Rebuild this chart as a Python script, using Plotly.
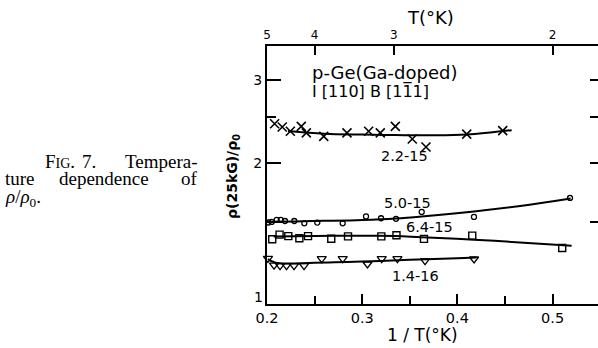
import plotly.graph_objects as go

# ---- measured points: 1/T (1/K) and rho(25 kG)/rho0 for each sample ----
inv_t_22 = [0.208, 0.216, 0.2245, 0.236, 0.2413, 0.2596, 0.284, 0.3068, 0.319, 0.3348,
            0.3526, 0.367, 0.4098, 0.4476]
ratio_22 = [2.42, 2.382, 2.332, 2.389, 2.314, 2.275, 2.314, 2.332, 2.314, 2.389,
            2.246, 2.16, 2.30, 2.34]

inv_t_50 = [0.2015, 0.2049, 0.2102, 0.2144, 0.2189, 0.2287, 0.2392, 0.2528, 0.2795,
            0.304, 0.3198, 0.3355, 0.3625, 0.4174, 0.5183]
ratio_50 = [1.495, 1.499, 1.514, 1.514, 1.506, 1.506, 1.489, 1.494, 1.489,
            1.540, 1.526, 1.522, 1.574, 1.536, 1.685]

inv_t_64 = [0.2055, 0.2132, 0.2224, 0.234, 0.2431, 0.2675, 0.2851, 0.3201, 0.336,
            0.3649, 0.4156, 0.5101]
ratio_64 = [1.378, 1.409, 1.399, 1.384, 1.399, 1.381, 1.397, 1.397, 1.405,
            1.380, 1.402, 1.320]

inv_t_14 = [0.201, 0.2074, 0.2137, 0.2205, 0.2284, 0.2389, 0.2575, 0.2795, 0.3055,
            0.3205, 0.337, 0.366, 0.4175]
ratio_14 = [1.255, 1.214, 1.211, 1.211, 1.211, 1.211, 1.253, 1.253, 1.221,
            1.253, 1.253, 1.241, 1.251]

# ---- smooth curves drawn through each sample ----
fit_x_22 = [0.222, 0.26, 0.30, 0.335, 0.37, 0.41, 0.457]
fit_y_22 = [2.335, 2.305, 2.295, 2.29, 2.287, 2.295, 2.345]

fit_x_50 = [0.202, 0.23, 0.26, 0.30, 0.335, 0.3625, 0.4174, 0.474, 0.519]
fit_y_50 = [1.501, 1.503, 1.507, 1.514, 1.525, 1.540, 1.578, 1.628, 1.68]

fit_x_64 = [0.207, 0.25, 0.30, 0.335, 0.3625, 0.4174, 0.474, 0.52]
fit_y_64 = [1.397, 1.40, 1.401, 1.40, 1.391, 1.375, 1.353, 1.335]

fit_x_14 = [0.201, 0.209, 0.25, 0.30, 0.35, 0.40, 0.42]
fit_y_14 = [1.25, 1.228, 1.229, 1.236, 1.246, 1.256, 1.26]

sample_names = ["2.2-15", "5.0-15", "6.4-15", "1.4-16"]

# ---- axes ----
x_ticks = [0.2, 0.3, 0.4, 0.5]
x_tick_text = ["0.2", "0.3", "0.4", "0.5"]
x_minor = [0.25, 0.35, 0.45]
temp_labels = [5, 4, 3, 2]          # T in K on the top scale
y_ticks = [1, 2, 3]
y_tick_text = ["", "2", "3"]
y_minor = [1.5, 2.5]

W, H = 598, 348
L, R, T, B = 267, 0, 46, 44
PW, PH = W - L - R, H - T - B


def paper(xp, yp):
    """pixel position in the figure -> paper coordinates"""
    return (xp - L) / PW, (H - B - yp) / PH


fig = go.Figure()

line_style = dict(color="black", width=2, shape="spline", smoothing=1.0)
for fx, fy in [(fit_x_22, fit_y_22), (fit_x_50, fit_y_50),
               (fit_x_64, fit_y_64), (fit_x_14, fit_y_14)]:
    fig.add_trace(go.Scatter(x=fx, y=fy, mode="lines", line=line_style,
                             hoverinfo="skip"))

marker_sets = [
    (inv_t_22, ratio_22, "x-thin-open", 9, 1.6),
    (inv_t_50, ratio_50, "circle-open", 5, 1.3),
    (inv_t_64, ratio_64, "square-open", 7, 1.4),
    (inv_t_14, ratio_14, "triangle-down-open", 8, 1.3),
]
for (mx, my, sym, size, lw), name in zip(marker_sets, sample_names):
    fig.add_trace(go.Scatter(
        x=mx, y=my, mode="markers", name=name, cliponaxis=False,
        marker=dict(symbol=sym, size=size, color="black",
                    line=dict(color="black", width=lw))))

# top temperature axis (x2) and right-hand frame axis (y2) need a trace each
top_pos = [1.0 / t for t in temp_labels]
fig.add_trace(go.Scatter(x=top_pos, y=[None] * len(top_pos), xaxis="x2",
                         mode="markers", hoverinfo="skip"))
fig.add_trace(go.Scatter(x=[None] * len(y_ticks), y=y_ticks, yaxis="y2",
                         mode="markers", hoverinfo="skip"))

axis_common = dict(showline=True, linecolor="black", linewidth=2,
                   showgrid=False, zeroline=False, ticks="inside",
                   tickcolor="black", tickwidth=1.6)

x_range = [0.2, 0.2 + PW / 952.0]
y_range = [0.002, 0.002 + PH / 472.2]

fig.update_layout(
    width=W, height=H,
    margin=dict(l=L, r=R, t=T, b=B, pad=0),
    paper_bgcolor="white", plot_bgcolor="white",
    showlegend=False,
    font=dict(family="DejaVu Sans", color="black"),
    xaxis=dict(range=x_range, tickmode="array", tickvals=x_ticks,
               ticktext=x_tick_text, ticklen=10,
               tickfont=dict(size=14.5, family="DejaVu Sans"),
               minor=dict(tickmode="array", tickvals=x_minor, ticklen=8,
                          ticks="inside", tickcolor="black", tickwidth=1.6),
               **axis_common),
    xaxis2=dict(range=x_range, overlaying="x", side="top", anchor="y",
                tickmode="array", tickvals=top_pos,
                ticktext=[str(t) for t in temp_labels], ticklen=9,
                tickfont=dict(size=12, family="DejaVu Sans"),
                **axis_common),
    yaxis=dict(type="log", range=y_range,
               tickmode="array", tickvals=y_ticks, ticktext=y_tick_text,
               ticklen=14,
               tickfont=dict(size=14, family="DejaVu Sans"),
               minor=dict(tickmode="array", tickvals=y_minor, ticklen=9,
                          ticks="inside", tickcolor="black", tickwidth=1.6),
               **axis_common),
    yaxis2=dict(type="log", range=y_range, overlaying="y", side="right",
                anchor="x", tickmode="array", tickvals=y_ticks,
                showticklabels=False, ticklen=8,
                minor=dict(tickmode="array", tickvals=y_minor, ticklen=8,
                           ticks="inside", tickcolor="black", tickwidth=1.6),
                **axis_common),
)

ann = []


def add_text(text, xp, yp, size, xanchor="center", family="DejaVu Sans",
             angle=0):
    px_, py_ = paper(xp, yp)
    ann.append(dict(text=text, x=px_, y=py_, xref="paper", yref="paper",
                    xanchor=xanchor, yanchor="middle", showarrow=False,
                    textangle=angle,
                    font=dict(size=size, family=family, color="black")))


# axis titles
add_text("T(°K)", 430.5, 17.5, 18)
add_text("1 / T(°K)", 422.5, 335, 17)
add_text("<b>ρ(25kG)/ρ<sub>0</sub></b>", 233, 177, 14, angle=-90)
add_text("1", 258, 297, 14)

# sample description inside the frame
add_text("p-Ge(Ga-doped)", 310, 72.5, 18, xanchor="left")
add_text("I [110] B [11\u03051]", 310, 91, 16, xanchor="left")

# curve labels
for name, (xp, yp) in zip(sample_names,
                          [(404, 156), (407.5, 202.5), (429, 227), (415, 276)]):
    add_text(name, xp, yp, 14.5)

# caption to the left of the plot, set as a justified block
serif = "Liberation Serif"
cap = 19
add_text("F<span style='font-size:14px'>IG</span>.", 43, 161, cap,
         xanchor="left", family=serif)
add_text("7.", 80, 161, cap, xanchor="left", family=serif)
add_text("Tempera-", 200, 161, cap, xanchor="right", family=serif)
add_text("ture", 3, 178, cap, xanchor="left", family=serif)
add_text("dependence", 57, 178, cap, xanchor="left", family=serif)
add_text("of", 200, 178, cap, xanchor="right", family=serif)
add_text("<i>ρ</i>/<i>ρ</i><sub>0</sub>.", 3, 198, cap, xanchor="left",
         family=serif)

fig.update_layout(annotations=ann)

fig.write_html("out.html")
